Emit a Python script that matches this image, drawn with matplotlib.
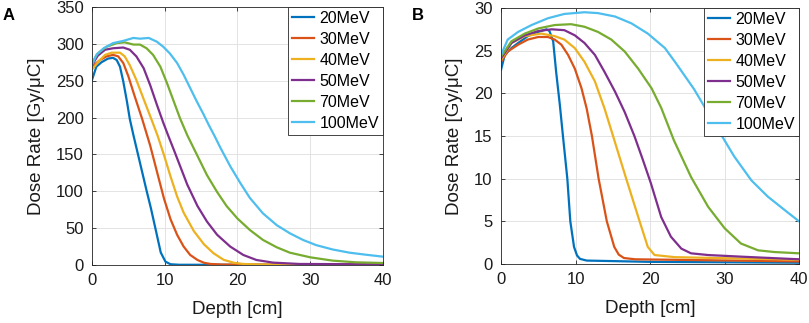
import numpy as np
import matplotlib
matplotlib.use('Agg')
import matplotlib.pyplot as plt

plt.rcParams['font.family']= ['Liberation Sans', 'DejaVu Sans']

legendFontSize= 11.5
axisLabelFontSize= 13.5
tickLabelFontSize= 12

labels= ['20MeV', '30MeV', '40MeV', '50MeV', '70MeV', '100MeV']
colors= ['#0072BD', '#D95319', '#EDB120', '#7E2F8E', '#77AC30', '#4DBEEE']
axisColor= '#262626'

# panel A: dose rate (Gy/uC) vs depth (cm)
depthA_20= [0, 0.6, 1.3, 2.2, 2.9, 3.4, 3.85, 4.3, 4.8, 5.2, 5.7, 6.3, 6.9, 7.5, 8.1, 8.8, 9.45, 10.1, 10.8, 12, 40]
doseA_20= [251, 269, 275, 280, 281, 278, 269, 249, 222, 198, 176, 151, 126, 101, 77, 46, 17, 4.5, 1, 0.3, 0.2]
depthA_30= [0, 1.1, 2.0, 2.9, 3.6, 4.3, 5.0, 5.8, 6.9, 8.0, 9.0, 9.9, 10.8, 11.7, 12.6, 13.5, 14.5, 15.4, 16.3, 18, 40]
doseA_30= [269, 278, 283, 285, 283, 274, 256, 231, 198, 162, 124, 90, 62, 41, 25, 13.6, 6.8, 3, 1.4, 0.6, 0.3]
depthA_40= [0, 0.9, 1.8, 2.7, 3.85, 4.5, 5.2, 6.1, 7.1, 8.0, 9.0, 9.9, 10.8, 11.7, 12.6, 14.0, 15.4, 16.7, 18.1, 19.5, 20.8, 23, 40]
doseA_40= [265, 276, 285, 288, 288, 283, 271, 251, 225, 202, 176, 149, 120, 93, 71, 46, 28, 16, 7, 3, 1.4, 0.6, 0.4]
depthA_50= [0, 0.8, 1.8, 2.9, 4.3, 5.2, 6.1, 7.1, 8.0, 8.9, 9.8, 10.5, 11.3, 12.2, 13.1, 14.5, 15.8, 17.2, 19.0, 20.8, 22.6, 24.9, 28.5, 40]
doseA_50= [271, 284, 292, 294, 295, 292, 283, 267, 244, 218, 193, 175, 155, 132, 109, 80, 59, 41, 25, 13.6, 6.8, 3.2, 1.4, 0.9]
depthA_70= [0, 0.8, 2.0, 3.4, 4.5, 5.7, 6.6, 7.5, 8.4, 9.4, 10.3, 11.2, 12.1, 13.1, 14.5, 15.8, 17.2, 18.5, 20.0, 21.7, 23.5, 25.4, 27.2, 30, 33.1, 36.3, 40]
doseA_70= [274, 287, 296, 301, 302, 299, 299, 294, 285, 269, 247, 223, 199, 176, 148, 122, 99, 80, 63, 47.5, 34, 24, 16.7, 10.4, 5.9, 3.6, 2.7]
depthA_100= [0, 0.6, 1.6, 2.9, 4.3, 5.7, 6.6, 7.8, 8.9, 9.8, 10.7, 11.7, 12.6, 13.5, 14.4, 15.3, 16.1, 16.9, 17.6, 19.0, 20.4, 21.7, 23.5, 25.4, 27.2, 29.0, 30.8, 33.1, 35.4, 37.6, 40]
doseA_100= [271, 285, 294, 301, 304, 308, 307, 308, 303, 296, 287, 274, 258, 240, 222, 205, 189, 174, 160, 134, 111, 91, 70, 54, 43, 34, 27, 21, 16.7, 14, 11.3]

# panel B
depthB_20= [0, 0.5, 1.4, 2.3, 3.6, 5.0, 6.1, 6.5, 7.0, 7.4, 7.9, 8.3, 8.9, 9.3, 9.8, 10.2, 10.6, 11.5, 20, 40]
doseB_20= [22.75, 24.5, 25.3, 25.9, 26.7, 27.2, 27.5, 27.3, 26.1, 22.5, 18.6, 15.1, 10, 5, 2, 1, 0.6, 0.4, 0.25, 0.15]
depthB_30= [0, 0.9, 2.3, 3.6, 5.0, 6.3, 7.2, 8.1, 9.0, 9.9, 10.8, 11.5, 12.2, 13.1, 14.2, 15.2, 15.8, 16.5, 18, 40]
doseB_30= [23.7, 24.9, 25.7, 26.3, 26.6, 26.6, 26.3, 25.7, 24.5, 22.9, 20.6, 18.2, 15, 10, 5, 2, 1.1, 0.7, 0.55, 0.3]
depthB_40= [0, 1.4, 3.2, 5.4, 7.2, 8.5, 9.9, 11.2, 12.6, 13.9, 15.0, 16.8, 18.6, 19.7, 20.6, 23.3, 40]
doseB_40= [23.9, 25.9, 26.7, 27.0, 26.7, 26.3, 25.3, 23.7, 21.4, 18.2, 15.1, 10, 5, 2, 1.05, 0.8, 0.5]
depthB_50= [0, 1.4, 3.2, 5.0, 6.8, 8.5, 9.9, 11.2, 12.6, 13.9, 15.3, 16.6, 17.9, 19.0, 20.1, 21.5, 22.8, 24.2, 25.5, 27.8, 32.2, 40]
doseB_50= [24.1, 25.9, 26.8, 27.3, 27.5, 27.4, 26.8, 25.9, 24.5, 22.5, 20.2, 17.8, 15.0, 12.3, 9.5, 5.5, 3.2, 1.8, 1.25, 1.05, 0.86, 0.55]
depthB_70= [0, 1.4, 3.2, 5.0, 7.2, 9.4, 11.2, 13.0, 14.8, 16.6, 18.4, 20.2, 21.5, 23.2, 25.5, 27.8, 30.0, 32.2, 34.5, 36.7, 40]
doseB_70= [24.3, 26.1, 27.0, 27.6, 28.0, 28.1, 27.8, 27.2, 26.3, 24.9, 22.9, 20.6, 18.3, 14.5, 10.2, 6.7, 4.2, 2.4, 1.6, 1.4, 1.25]
depthB_100= [0, 0.9, 2.3, 4.1, 6.3, 8.5, 11.2, 13.0, 15.3, 17.5, 19.7, 22.0, 23.5, 25.9, 27.8, 29.3, 31.3, 33.6, 35.8, 38.1, 40]
doseB_100= [24.5, 26.3, 27.2, 28.0, 28.8, 29.3, 29.5, 29.4, 29.0, 28.2, 27.0, 25.3, 23.5, 20.5, 17.7, 15.5, 12.6, 9.8, 7.9, 6.3, 5.0]

depthA= [depthA_20, depthA_30, depthA_40, depthA_50, depthA_70, depthA_100]
doseA= [doseA_20, doseA_30, doseA_40, doseA_50, doseA_70, doseA_100]
depthB= [depthB_20, depthB_30, depthB_40, depthB_50, depthB_70, depthB_100]
doseB= [doseB_20, doseB_30, doseB_40, doseB_50, doseB_70, doseB_100]


def depthDosePanel(ax, depth, dose, yMax, yStep):
    for i, key in enumerate(labels):
        ax.plot(depth[i], dose[i], color= colors[i], lw= 1.6, label= key)
    ax.set_xlim(0, 40)
    ax.set_ylim(0, yMax)
    ax.set_xticks(np.arange(0, 41, 10))
    ax.set_yticks(np.arange(0, yMax + 0.1, yStep))
    ax.grid(True, color= '#dedede', lw= 0.6)
    ax.set_axisbelow(True)
    for sp in ax.spines.values():
        sp.set_color(axisColor)
        sp.set_linewidth(0.6)
    ax.tick_params(direction= 'in', length= 3, width= 0.6, colors= axisColor, pad= 6,
                   labelsize= tickLabelFontSize, labelcolor= '#1a1a1a', top= True, right= True)
    ax.set_xlabel('Depth [cm]', fontsize= axisLabelFontSize, color= '#1a1a1a', labelpad= 9)
    ax.set_ylabel('Dose Rate [Gy/μC]', fontsize= axisLabelFontSize, color= '#1a1a1a', labelpad= 8)
    leg= ax.legend(loc= 'upper right', fontsize= legendFontSize, borderaxespad= 0,
                   fancybox= False, framealpha= 1, edgecolor= axisColor,
                   handlelength= 1.35, handletextpad= 0.35, labelspacing= 0.37,
                   borderpad= 0.25)
    leg.get_frame().set_linewidth(0.6)


fig= plt.figure(figsize= (8.09, 3.23), dpi= 100)
axA= fig.add_axes([0.1137, 0.1796, 0.3597, 0.7988])
axB= fig.add_axes([0.6193, 0.1827, 0.3684, 0.7926])
depthDosePanel(axA, depthA, doseA, 350, 50)
depthDosePanel(axB, depthB, doseB, 30, 5)
fig.text(3/809, 1 - 8/323, 'A', fontsize= 12, fontweight= 'bold', va= 'top', ha= 'left')
fig.text(412/809, 1 - 8/323, 'B', fontsize= 12, fontweight= 'bold', va= 'top', ha= 'left')
fig.savefig('out.png', dpi= 100)
